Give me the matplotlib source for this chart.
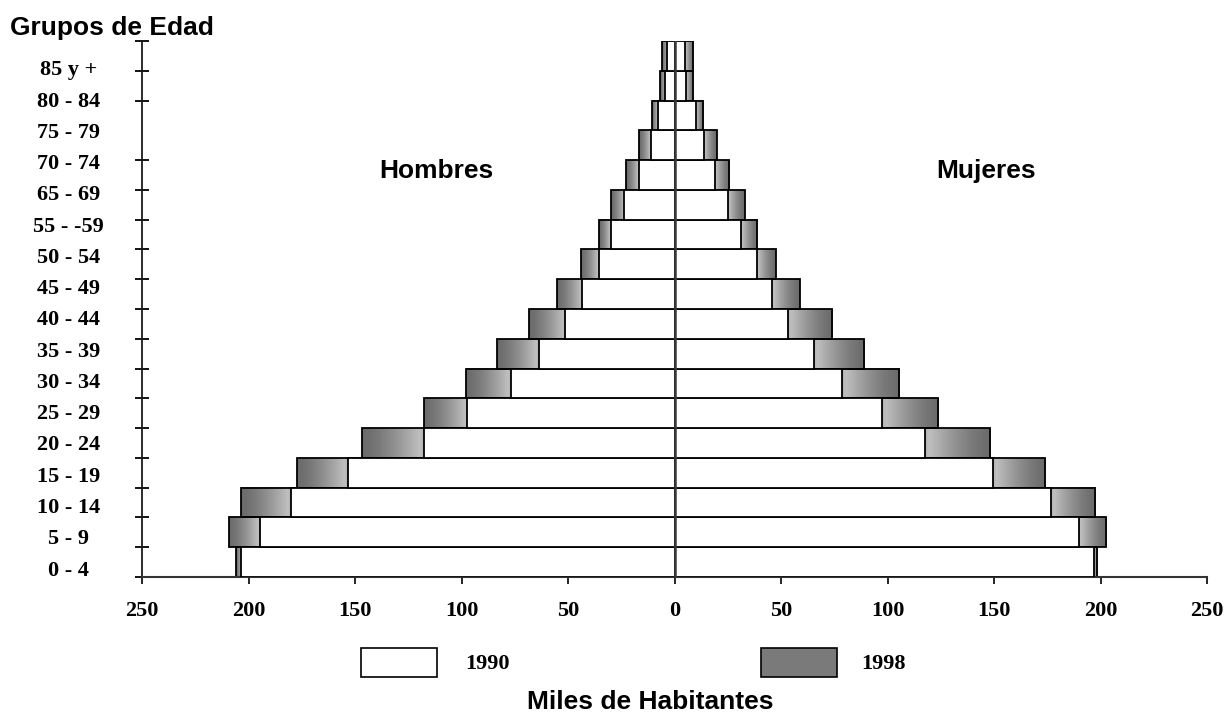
import numpy as np
import matplotlib
matplotlib.use("Agg")
import matplotlib.pyplot as plt
from matplotlib.patches import Rectangle

# age groups, bottom to top (18 bars, the source only labels 17 of them)
age_labels = ["0 - 4", "5 - 9", "10 - 14", "15 - 19", "20 - 24", "25 - 29",
              "30 - 34", "35 - 39", "40 - 44", "45 - 49", "50 - 54", "55 - -59",
              "65 - 69", "70 - 74", "75 - 79", "80 - 84", "85 y +"]

# miles de habitantes
hombres_1990 = [203.3, 194.5, 180.1, 153.4, 117.6, 97.2, 76.9, 63.8, 51.3,
                43.2, 35.5, 30.0, 23.5, 16.9, 11.1, 7.9, 4.3, 3.6]
hombres_1998 = [205.9, 209.0, 203.3, 177.1, 146.6, 117.8, 97.8, 83.2, 68.3,
                55.1, 43.9, 35.6, 29.9, 23.0, 16.5, 10.6, 6.8, 6.1]
mujeres_1990 = [196.8, 189.7, 176.6, 149.5, 117.5, 97.3, 78.6, 65.3, 53.4,
                46.0, 38.9, 31.3, 25.2, 18.9, 13.9, 10.0, 5.6, 5.0]
mujeres_1998 = [198.5, 202.4, 197.3, 174.1, 148.3, 123.7, 105.6, 89.1, 74.1,
                59.1, 47.8, 38.9, 33.0, 25.6, 20.0, 13.4, 8.9, 8.9]

series = ["1990", "1998"]
x_ticks = [-250, -200, -150, -100, -50, 0, 50, 100, 150, 200, 250]
x_ticklabels = ["250", "200", "150", "100", "50", "0", "50", "100", "150", "200", "250"]

W, H = 1231, 719
fig = plt.figure(figsize=(W / 100, H / 100), dpi=100)
ax = fig.add_axes([142 / W, 142 / H, (1207 - 142) / W, (577 - 41) / H])

n = len(hombres_1990)
y = np.arange(n)
hm90 = -np.array(hombres_1990)
hm98 = -np.array(hombres_1998)
mj90 = np.array(mujeres_1990)
mj98 = np.array(mujeres_1998)

# gradient for the 1998 bars: dark outside, light toward the centre
t = np.linspace(0, 1, 80)
grad = 0.42 + 0.36 * t ** 1.4
grad[-6:] -= np.linspace(0, 0.08, 6)
grad = grad[np.newaxis, :]

for k in range(n):
    ax.imshow(grad, cmap="gray", vmin=0, vmax=1, aspect="auto",
              interpolation="bilinear",
              extent=(hm98[k], hm90[k], k - 0.5, k + 0.5), zorder=2)
    ax.imshow(grad[:, ::-1], cmap="gray", vmin=0, vmax=1, aspect="auto",
              interpolation="bilinear",
              extent=(mj90[k], mj98[k], k - 0.5, k + 0.5), zorder=2)

ax.barh(y, hm98, height=1.0, fill=False, edgecolor="black", linewidth=1.3, zorder=2.5)
ax.barh(y, mj98, height=1.0, fill=False, edgecolor="black", linewidth=1.3, zorder=2.5)
ax.barh(y, hm90, height=1.0, color="white", edgecolor="black", linewidth=1.3, zorder=3)
ax.barh(y, mj90, height=1.0, color="white", edgecolor="black", linewidth=1.3, zorder=3)

ax.axvline(0, color="#3a3a3a", linewidth=1.8, zorder=4)

ax.set_xlim(-250, 250)
ax.set_ylim(-0.5, n - 0.5)
ax.set_aspect("auto")

for s in ["top", "right"]:
    ax.spines[s].set_visible(False)
ax.spines["left"].set_color("#1a1a1a")
ax.spines["left"].set_linewidth(1.3)
ax.spines["bottom"].set_color("#333333")
ax.spines["bottom"].set_linewidth(1.5)

ax.set_xticks(x_ticks)
ax.set_xticklabels(x_ticklabels, fontfamily="Liberation Serif",
                   fontweight="bold", fontsize=16)
ax.tick_params(axis="x", direction="out", length=5, width=1.2, pad=12)

# labels sit on their own spacing, not on the bar centres
label_pos = np.linspace(-0.2, 16.6, len(age_labels))
ax.set_yticks(label_pos)
ax.set_yticklabels(age_labels, fontfamily="Liberation Serif",
                   fontweight="bold", fontsize=16)
ax.tick_params(axis="y", which="major", length=0, pad=53)
for lab in ax.get_yticklabels():
    lab.set_horizontalalignment("center")
ax.set_yticks(np.arange(-0.5, n, 1.0), minor=True)
ax.tick_params(axis="y", which="minor", direction="inout", length=10, width=1.3)

sans = dict(fontfamily="Liberation Sans", fontweight="bold")
fig.text(10 / W, 1 - 28 / H, "Grupos de Edad", ha="left", va="center", fontsize=19, **sans)
fig.text(436 / W, 1 - 171 / H, "Hombres", ha="center", va="center", fontsize=19, **sans)
fig.text(986 / W, 1 - 171 / H, "Mujeres", ha="center", va="center", fontsize=19, **sans)
fig.text(650 / W, 1 - 702 / H, "Miles de Habitantes", ha="center", va="center", fontsize=19, **sans)

# legend boxes
fig.add_artist(Rectangle((361 / W, 1 - 677 / H), 76 / W, 29 / H, transform=fig.transFigure,
                         facecolor="white", edgecolor="black", linewidth=1.2))
fig.add_artist(Rectangle((761 / W, 1 - 677 / H), 76 / W, 29 / H, transform=fig.transFigure,
                         facecolor="#7a7a7a", edgecolor="black", linewidth=1.2))
fig.text(465 / W, 1 - 664 / H, series[0], ha="left", va="center",
         fontfamily="Liberation Serif", fontweight="bold", fontsize=16)
fig.text(861 / W, 1 - 664 / H, series[1], ha="left", va="center",
         fontfamily="Liberation Serif", fontweight="bold", fontsize=16)

fig.savefig("out.png", dpi=100)
